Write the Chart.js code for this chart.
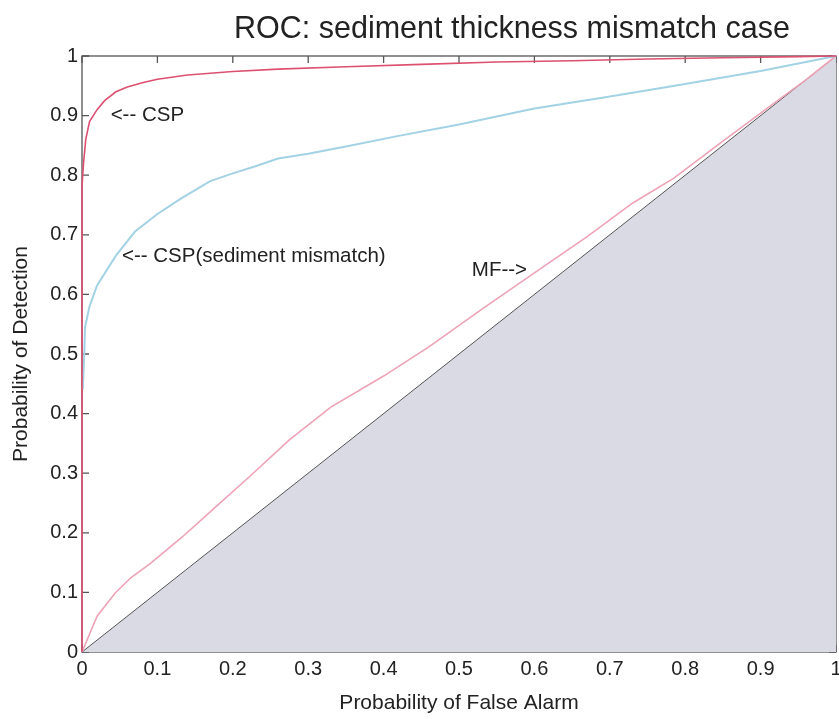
<!DOCTYPE html>
<html>
<head>
<meta charset="utf-8">
<title>ROC: sediment thickness mismatch case</title>
<script src="https://cdn.jsdelivr.net/npm/chart.js@4.4.1/dist/chart.umd.min.js"></script>
<style>
  html, body { margin: 0; padding: 0; background: #fff; }
  #wrap { width: 839px; height: 719px; }
</style>
</head>
<body>
<div id="wrap"><canvas id="rocChart" width="839" height="719"></canvas></div>
<script>
const titleText = "ROC: sediment thickness mismatch case";
const xTitle = "Probability of False Alarm";
const yTitle = "Probability of Detection";
const tickLabels = ["0", "0.1", "0.2", "0.3", "0.4", "0.5", "0.6", "0.7", "0.8", "0.9", "1"];

// CSP (matched)
const cspFA = [0, 0, 0.002, 0.005, 0.01, 0.02, 0.03, 0.045, 0.06, 0.08, 0.1, 0.14, 0.2, 0.26, 0.35, 0.45, 0.55, 0.65, 0.75, 0.85, 0.95, 1];
const cspPD = [0, 0.78, 0.82, 0.86, 0.89, 0.91, 0.925, 0.94, 0.948, 0.955, 0.961, 0.968, 0.974, 0.978, 0.982, 0.986, 0.99, 0.992, 0.995, 0.997, 0.999, 1];

// CSP with sediment mismatch
const mismatchFA = [0.001, 0.003, 0.004, 0.01, 0.02, 0.03, 0.045, 0.07, 0.1, 0.13, 0.17, 0.2, 0.23, 0.26, 0.3, 0.35, 0.42, 0.5, 0.6, 0.69, 0.79, 0.9, 0.96, 1];
const mismatchPD = [0.44, 0.5, 0.545, 0.58, 0.615, 0.635, 0.665, 0.705, 0.735, 0.76, 0.79, 0.803, 0.815, 0.828, 0.836, 0.848, 0.866, 0.885, 0.912, 0.93, 0.951, 0.975, 0.99, 1];

// matched filter
const mfFA = [0, 0.02, 0.044, 0.065, 0.09, 0.133, 0.177, 0.222, 0.275, 0.33, 0.4, 0.46, 0.53, 0.6, 0.67, 0.73, 0.785, 0.85, 0.918, 0.96, 1];
const mfPD = [0, 0.06, 0.099, 0.125, 0.148, 0.193, 0.243, 0.294, 0.356, 0.411, 0.463, 0.512, 0.575, 0.636, 0.697, 0.753, 0.795, 0.857, 0.921, 0.96, 1];

// chance line
const chanceFA = [0, 1];
const chancePD = [0, 1];

const notes = [
  { text: "<-- CSP", x: 0.038, y: 0.9 },
  { text: "<-- CSP(sediment mismatch)", x: 0.053, y: 0.664 },
  { text: "MF-->", x: 0.517, y: 0.641 }
];

const fontFamily = '"Liberation Sans", Arial, Helvetica, sans-serif';
const textColor = "#222";

function toPoints(xs, ys) {
  return xs.map((x, i) => ({ x: x, y: ys[i] }));
}

const framePlugin = {
  id: "frame",
  beforeDatasetsDraw(chart) {
    const { ctx, chartArea: a, scales } = chart;
    ctx.save();
    ctx.strokeStyle = "#555";
    ctx.lineWidth = 1.3;
    ctx.strokeRect(a.left, a.top, a.right - a.left, a.bottom - a.top);
    ctx.beginPath();
    const len = 7;
    scales.x.ticks.forEach(t => {
      const px = scales.x.getPixelForValue(t.value);
      ctx.moveTo(px, a.bottom); ctx.lineTo(px, a.bottom - len);
      ctx.moveTo(px, a.top); ctx.lineTo(px, a.top + len);
    });
    scales.y.ticks.forEach(t => {
      const py = scales.y.getPixelForValue(t.value);
      ctx.moveTo(a.left, py); ctx.lineTo(a.left + len, py);
      ctx.moveTo(a.right, py); ctx.lineTo(a.right - len, py);
    });
    ctx.stroke();
    ctx.restore();
  },
  afterDatasetsDraw(chart) {
    const { ctx, scales } = chart;
    ctx.save();
    ctx.fillStyle = textColor;
    ctx.font = "20.5px " + fontFamily;
    ctx.textAlign = "left";
    ctx.textBaseline = "middle";
    notes.forEach(n => {
      ctx.fillText(n.text, scales.x.getPixelForValue(n.x), scales.y.getPixelForValue(n.y));
    });
    ctx.restore();
  },
  afterDraw(chart) {
    const { ctx } = chart;
    ctx.save();
    ctx.fillStyle = textColor;
    ctx.font = "30.5px " + fontFamily;
    ctx.textAlign = "center";
    ctx.textBaseline = "middle";
    ctx.fillText(titleText, 512, 30);
    ctx.restore();
  }
};

new Chart(document.getElementById("rocChart").getContext("2d"), {
  type: "scatter",
  data: {
    datasets: [
      {
        label: "CSP",
        data: toPoints(cspFA, cspPD),
        showLine: true,
        borderColor: "#dc5070",
        borderWidth: 1.6,
        pointRadius: 0,
        tension: 0,
        clip: false
      },
      {
        label: "CSP(sediment mismatch)",
        data: toPoints(mismatchFA, mismatchPD),
        showLine: true,
        borderColor: "#a2d2e4",
        borderWidth: 2,
        pointRadius: 0,
        tension: 0,
        clip: false
      },
      {
        label: "MF",
        data: toPoints(mfFA, mfPD),
        showLine: true,
        borderColor: "#eea2b6",
        borderWidth: 1.6,
        pointRadius: 0,
        tension: 0,
        clip: false
      },
      {
        label: "chance",
        data: toPoints(chanceFA, chancePD),
        showLine: true,
        borderColor: "#555",
        borderWidth: 1,
        backgroundColor: "#dadae4",
        fill: "origin",
        pointRadius: 0,
        tension: 0
      }
    ]
  },
  options: {
    responsive: false,
    animation: false,
    devicePixelRatio: 1,
    layout: { padding: { top: 56, right: 3, left: 0, bottom: 0 } },
    plugins: {
      legend: { display: false },
      title: { display: false },
      tooltip: { enabled: false }
    },
    scales: {
      x: {
        type: "linear",
        position: "bottom",
        min: 0,
        max: 1,
        grid: { display: false, drawTicks: false },
        border: { display: false },
        ticks: {
          stepSize: 0.1,
          autoSkip: false,
          maxRotation: 0,
          padding: 5,
          color: textColor,
          font: { family: fontFamily, size: 20 },
          callback: v => tickLabels[Math.round(v * 10)]
        },
        title: {
          display: true,
          text: xTitle,
          color: textColor,
          font: { family: fontFamily, size: 21 },
          padding: { top: 4, bottom: 3 }
        },
        afterFit: s => { s.height = 67; s.paddingLeft = 0; s.paddingRight = 0; }
      },
      y: {
        type: "linear",
        position: "left",
        min: 0,
        max: 1,
        grid: { display: false, drawTicks: false },
        border: { display: false },
        ticks: {
          stepSize: 0.1,
          autoSkip: false,
          padding: 4,
          color: textColor,
          font: { family: fontFamily, size: 20 },
          callback: v => tickLabels[Math.round(v * 10)]
        },
        title: {
          display: true,
          text: yTitle,
          color: textColor,
          font: { family: fontFamily, size: 21 },
          padding: { top: 9, bottom: 4 }
        },
        afterFit: s => { s.width = 82; s.paddingTop = 0; s.paddingBottom = 0; }
      }
    }
  },
  plugins: [framePlugin]
});
</script>
</body>
</html>
